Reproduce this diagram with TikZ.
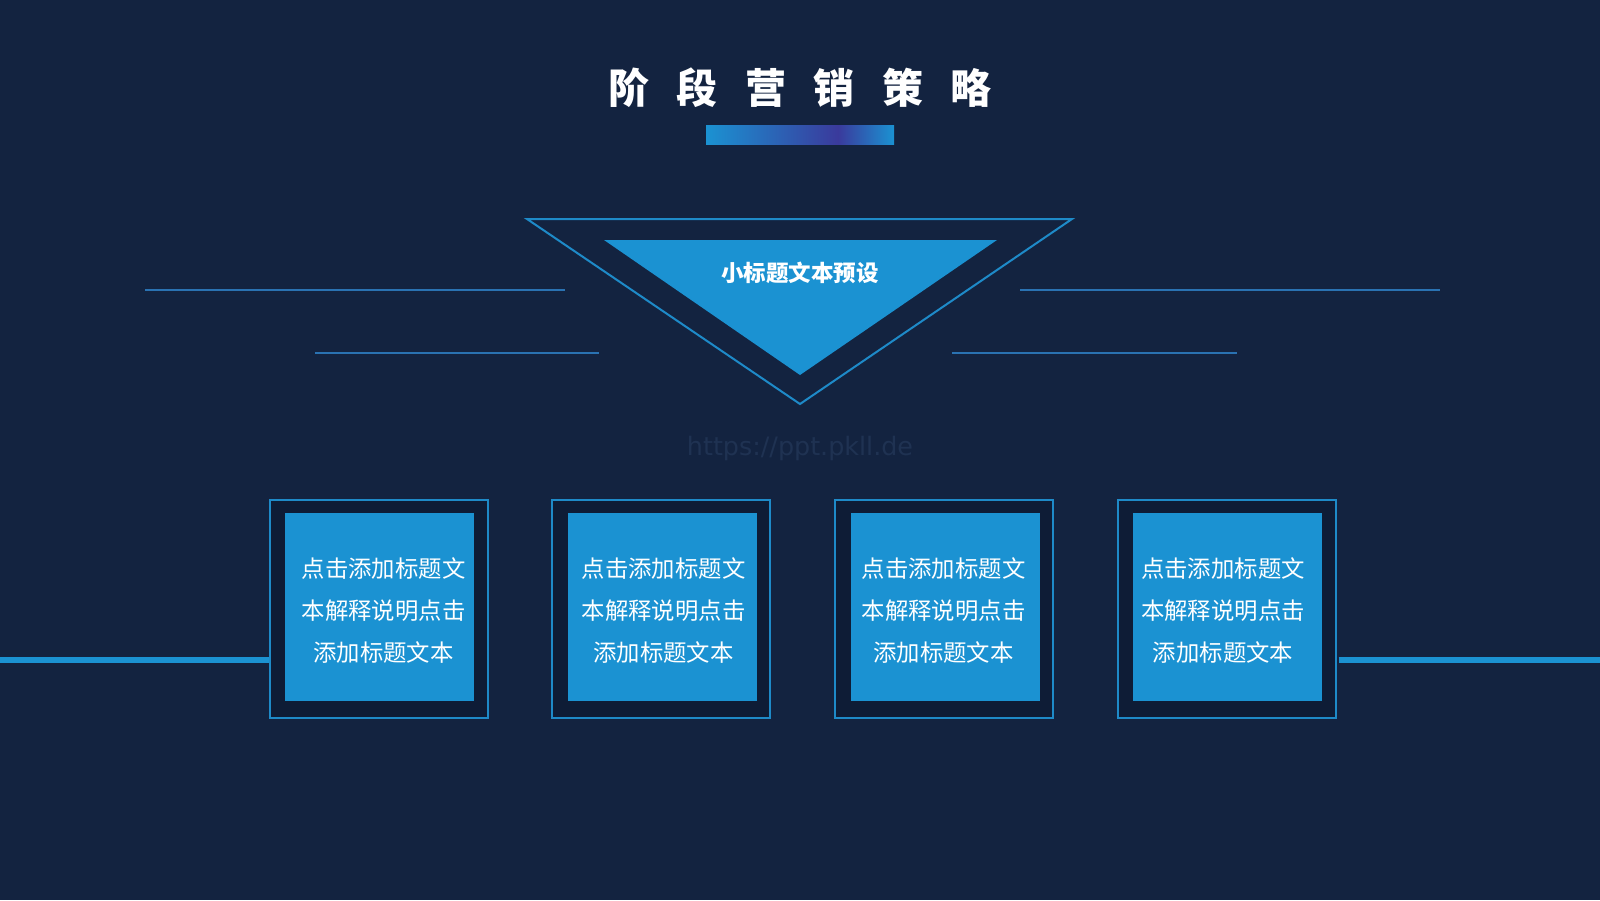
\documentclass[tikz,border=0pt]{standalone}
\usepackage{fontspec}
\newfontfamily\cjk{Noto Sans CJK SC}
\newfontfamily\wmfont{DejaVu Sans}
\definecolor{bg}{HTML}{132340}
\definecolor{boxin}{HTML}{0E1C36}
\definecolor{accent}{HTML}{1B92D2}
\definecolor{edge}{HTML}{1E8AC8}
\definecolor{thin}{HTML}{2A72B2}
\definecolor{indigo}{HTML}{3A3A9C}
\definecolor{wmcol}{HTML}{1F3252}
\tikzset{
  outerbox/.style={draw=edge, line width=1pt, fill=boxin, minimum width=109pt, minimum height=109pt, inner sep=0pt},
  innerbox/.style={fill=accent, minimum width=94.5pt, minimum height=94pt, inner sep=0pt},
  boxtext/.style={text=white, align=center, inner sep=0pt, font=\cjk\fontsize{11.7}{21}\selectfont},
  thinline/.style={draw=thin, line width=0.6pt},
  thickline/.style={draw=accent, line width=3pt},
}
\begin{document}
\begin{tikzpicture}[x=0.5pt,y=-0.5pt]
\useasboundingbox (0,0) rectangle (1600,900);
\fill[bg] (0,0) rectangle (1600,900);

% title
\node[text=white, font=\cjk\bfseries\fontsize{20.5}{24}\selectfont] (title) at (800,88)
  {阶\hspace{13.8pt}段\hspace{13.8pt}营\hspace{13.8pt}销\hspace{13.8pt}策\hspace{13.8pt}略};
% gradient bar
\shade[left color=accent, right color=indigo] (706,125) rectangle (838,144);
\shade[left color=indigo, right color=accent] (838,125) rectangle (894,144);

% thin lines
\draw[thinline] (145,290) -- (565,290);
\draw[thinline] (315,353) -- (599,353);
\draw[thinline] (1020,290) -- (1440,290);
\draw[thinline] (952,353) -- (1237,353);

% triangles
\draw[draw=edge, line width=1pt, fill=bg] (527,219) -- (1072,219) -- (800,404) -- cycle;
\fill[accent] (604,240) -- (997,240) -- (800,375) -- cycle;
\node[text=white, font=\cjk\bfseries\fontsize{11.25}{14}\selectfont] (sub) at (800,273) {小标题文本预设};

% watermark
\node[text=wmcol, font=\wmfont\fontsize{12.7}{15}\selectfont] (wm) at (800,448) {https://ppt.pkll.de};

% boxes
\foreach \i/\x/\tx in {1/378.5/383.5, 2/661/663.5, 3/944/943.5, 4/1226.5/1223} {
  \node[outerbox] (o\i) at (\x,609) {};
  \node[innerbox] (b\i) at (\x+1,607) {};
  \node[boxtext] (t\i) at (\tx,611) {点击添加标题文\\本解释说明点击\\添加标题文本};
}

% thick lines
\coordinate (L) at (0,660);
\coordinate (R) at (1600,660);
\draw[thickline] (L) -- (L -| o1.west);
\draw[thickline] ([xshift=1pt]R -| o4.east) -- (R);
\end{tikzpicture}
\end{document}
